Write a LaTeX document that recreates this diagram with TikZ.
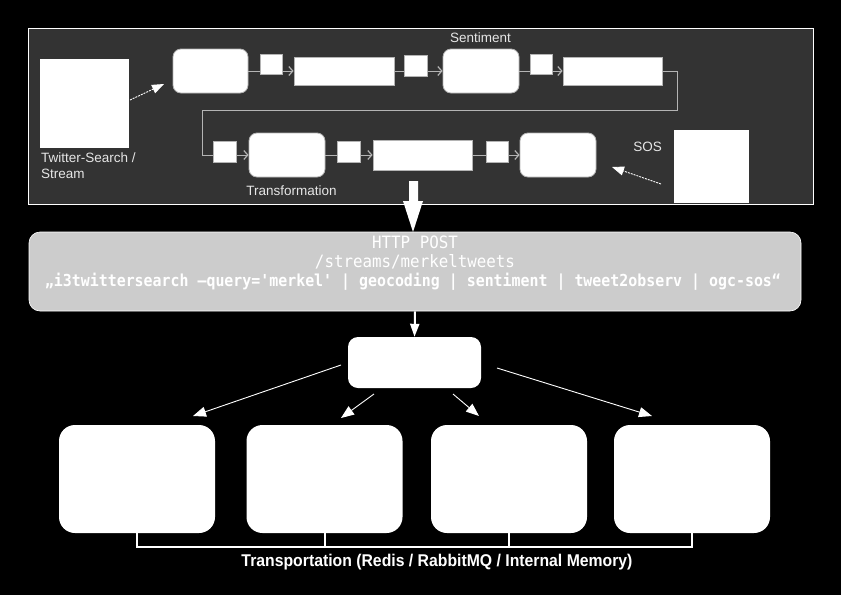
\documentclass[tikz,border=0pt]{standalone}
\usepackage{fontspec}
\usepackage{graphicx}
\setmainfont{Liberation Sans}
\newfontfamily\monof{DejaVu Sans Mono}
\usetikzlibrary{arrows.meta,calc}
\definecolor{panel}{HTML}{333333}
\definecolor{boxline}{HTML}{B4B4B4}
\definecolor{lbl}{HTML}{E6E6E6}
\definecolor{grayfill}{HTML}{CCCCCC}
\tikzset{
  rbox/.style={draw=boxline, line width=0.8pt, fill=white, rounded corners=8pt, inner sep=0pt},
  pbox/.style={draw=boxline, line width=0.8pt, fill=white, inner sep=0pt},
  wsq/.style={fill=white, inner sep=0pt},
  flow/.style={draw=boxline, line width=0.9pt, -{Straight Barb[length=4pt,width=9pt,line width=1.2pt]}},
  dasharr/.style={draw=white, dashed, dash pattern=on 2pt off 1pt, line width=0.9pt, -{Triangle[length=12pt,width=9pt]}},
  fanarr/.style={draw=white, line width=0.9pt, -{Triangle[length=13pt,width=10pt]}},
  bigbox/.style={fill=white, rounded corners=16pt, inner sep=0pt, minimum width=156pt, minimum height=108pt},
  lab/.style={text=lbl, inner sep=0pt, font=\fontsize{13.5}{16}\selectfont},
  mono/.style={text=white, inner sep=0pt},
}
\begin{document}
\begin{tikzpicture}[x=1pt,y=-1pt]
\useasboundingbox (0,0) rectangle (841,595);
\fill[black] (0,0) rectangle (841,595);
% top panel
\node[draw=white, line width=1pt, fill=panel, minimum width=785pt, minimum height=176pt, inner sep=0pt] (panel) at (420.5,116) {};
% source / sink squares
\node[wsq, minimum width=89pt, minimum height=89pt] (tw) at (84.5,103.5) {};
\node[lab, anchor=west, align=left] (twl) at (41,166) {Twitter-Search /\\Stream};
\node[wsq, minimum width=75pt, minimum height=73pt] (sos) at (711.5,166.5) {};
\node[lab] (sosl) at (647.5,147) {SOS};
% row 1
\node[rbox, minimum width=75pt, minimum height=44pt] (A) at (210.5,71) {};
\node[pbox, minimum width=100pt, minimum height=28pt] (r1) at (344,71) {};
\node[rbox, minimum width=76pt, minimum height=44pt] (B) at (481,71) {};
\node[pbox, minimum width=99pt, minimum height=28pt] (r2) at (612.5,71) {};
\node[lab] (sentl) at (480.5,38) {Sentiment};
% row 2
\node[rbox, minimum width=76pt, minimum height=44pt] (C) at (287,155) {};
\node[pbox, minimum width=99pt, minimum height=30pt] (r3) at (422.5,155) {};
\node[rbox, minimum width=76pt, minimum height=44pt] (D) at (558,155) {};
\node[lab] (transl) at (291.5,191) {Transformation};
% connectors
\draw[flow] (A.east) -- (r1.west);
\draw[flow] (r1.east) -- (B.west);
\draw[flow] (B.east) -- (r2.west);
\coordinate (l1) at (677,110);
\coordinate (l2) at (202,110);
\draw[flow] (r2.east) -| (l1) -- (l2) |- (C.west);
\draw[flow] (C.east) -- (r3.west);
\draw[flow] (r3.east) -- (D.west);
% small squares on the lines
\node[pbox, minimum width=22pt, minimum height=20pt] (s1) at (271,64) {};
\node[pbox, minimum width=23pt, minimum height=21pt] (s2) at (415.5,65.5) {};
\node[pbox, minimum width=22pt, minimum height=20pt] (s3) at (541,64) {};
\node[pbox, minimum width=23pt, minimum height=21pt] (s4) at (224.5,151.5) {};
\node[pbox, minimum width=23pt, minimum height=21pt] (s5) at (348.5,151.5) {};
\node[pbox, minimum width=22pt, minimum height=21pt] (s6) at (497,151.5) {};
% dashed arrows
\coordinate (tws) at (130,100);
\coordinate (twe) at (164,84);
\draw[dasharr] (tws) -- (twe);
\coordinate (soss) at (661,184);
\coordinate (sose) at (612,167);
\draw[dasharr] (soss) -- (sose);
% HTTP POST box
\node[fill=grayfill, draw=white, line width=0.6pt, rounded corners=11pt, minimum width=772pt, minimum height=79pt, inner sep=0pt] (G) at (415,271.5) {};
\node[mono] (g1) at (415,242) {\resizebox{86pt}{\height}{\monof\fontsize{17}{18}\selectfont HTTP POST}};
\node[mono] (g2) at (415,262) {\resizebox{200pt}{\height}{\monof\fontsize{17}{18}\selectfont /streams/merkeltweets}};
\node[mono] (g3) at (413,282) {\resizebox{736pt}{\height}{\monof\bfseries\fontsize{16.5}{18}\selectfont „i3twittersearch –query='merkel' | geocoding | sentiment | tweet2observ | ogc-sos“}};
% big down arrow
\fill[white] (409,181) -- (418,181) -- (418,201) -- (423,201) -- (413,232) -- (403,201) -- (409,201) -- cycle;
% dispatcher box
\node[fill=white, rounded corners=10pt, minimum width=133pt, minimum height=51pt, inner sep=0pt] (E) at (414.5,362.5) {};
\draw[white, line width=2pt, -{Triangle[length=13pt,width=9pt]}] (G.south) -- (E.north);
% bottom boxes
\node[bigbox] (b1) at (137,479) {};
\node[bigbox] (b2) at (324.5,479) {};
\node[bigbox] (b3) at (509,479) {};
\node[bigbox] (b4) at (692,479) {};
% fan arrows
\coordinate (e1) at (341,365); \coordinate (t1) at (193,416);
\coordinate (e2) at (374,394); \coordinate (t2) at (341,418);
\coordinate (e3) at (453,394); \coordinate (t3) at (479,416);
\coordinate (e4) at (497,368); \coordinate (t4) at (652,416);
\draw[fanarr] (e1) -- (t1);
\draw[fanarr] (e2) -- (t2);
\draw[fanarr] (e3) -- (t3);
\draw[fanarr] (e4) -- (t4);
% bracket
\coordinate (br) at (0,547);
\draw[white, line width=2pt] (b1.south) -- (b1.south |- br) -- (b4.south |- br) -- (b4.south);
\draw[white, line width=2pt] (b2.south) -- (b2.south |- br);
\draw[white, line width=2pt] (b3.south) -- (b3.south |- br);
\node[text=white, inner sep=0pt] (tr) at (437,562) {\resizebox{391pt}{\height}{\bfseries\fontsize{17}{18}\selectfont Transportation (Redis / RabbitMQ / Internal Memory)}};
\end{tikzpicture}
\end{document}
